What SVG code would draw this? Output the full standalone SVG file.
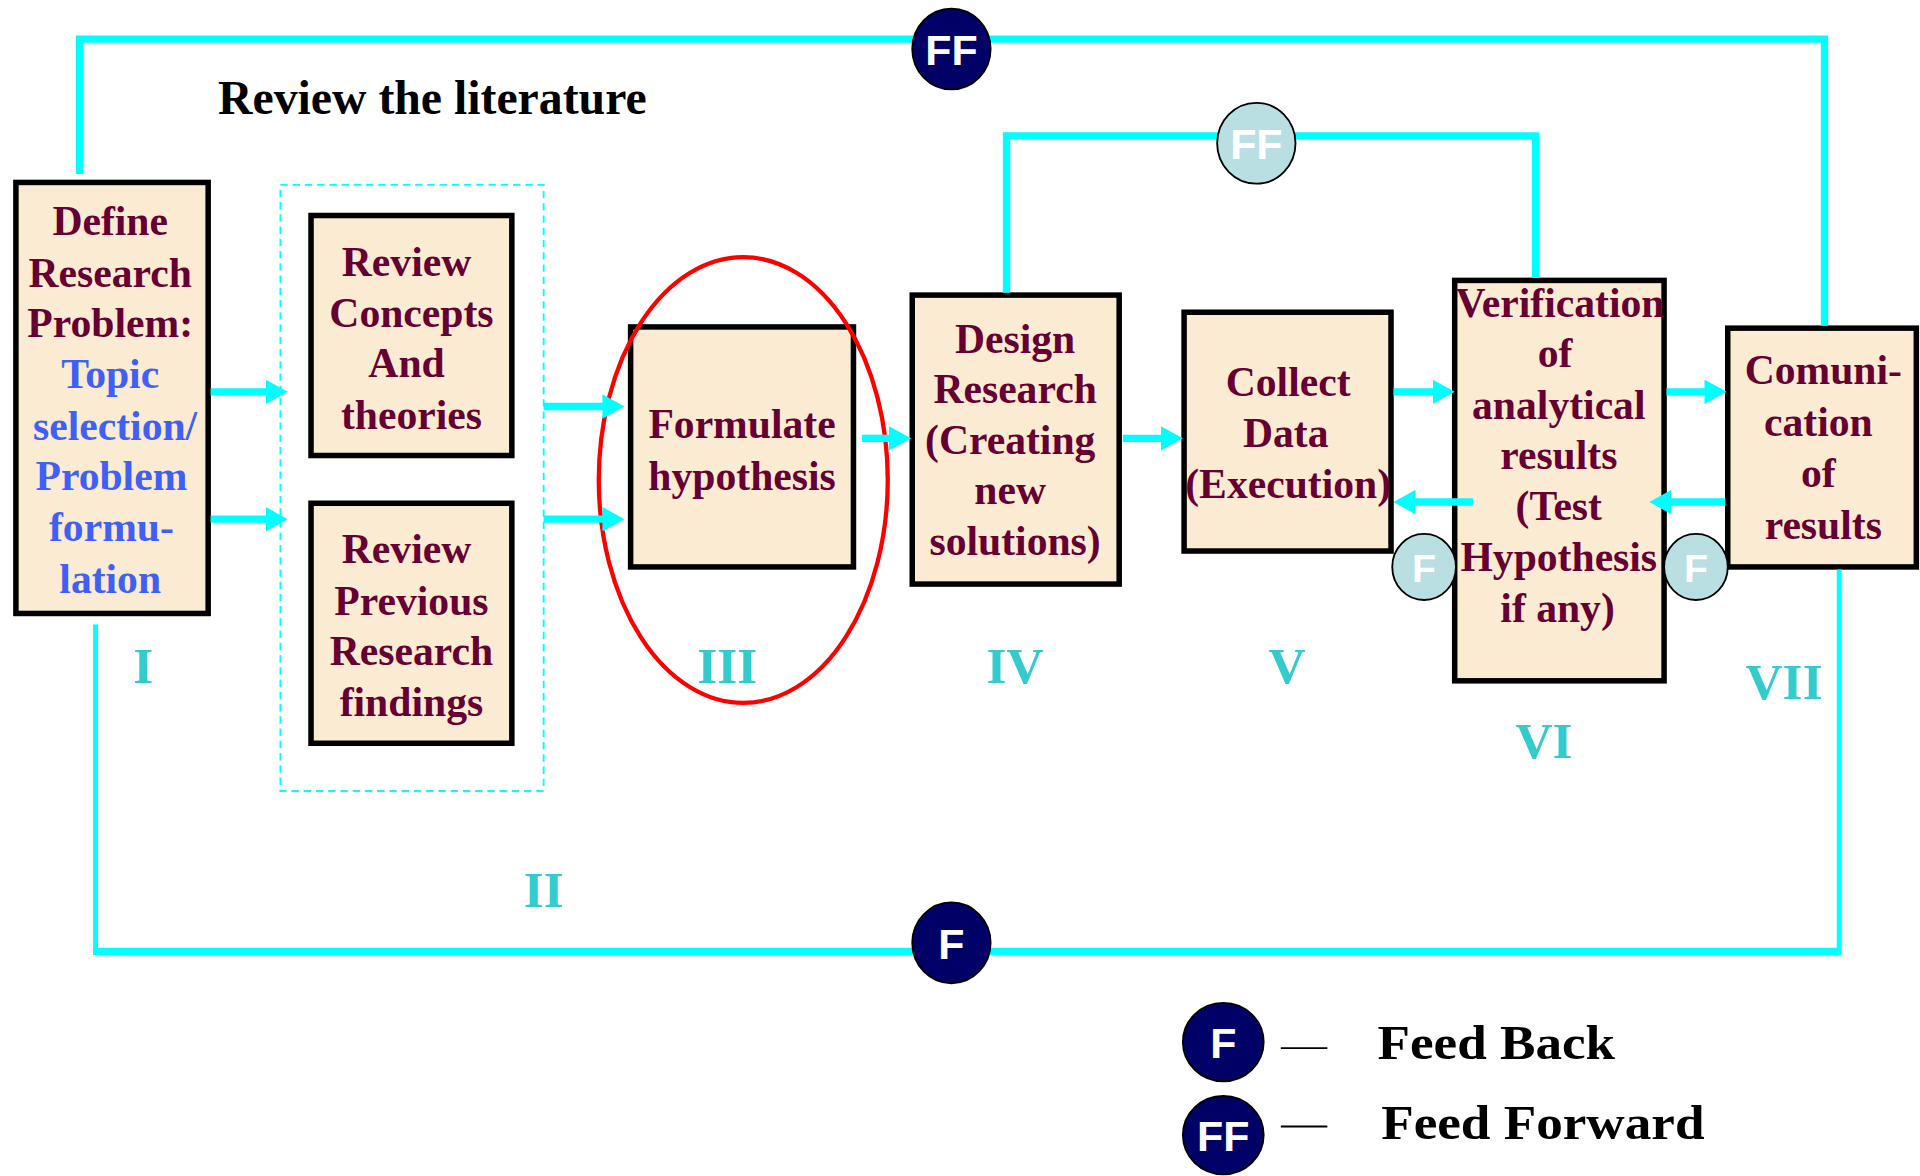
<svg xmlns="http://www.w3.org/2000/svg" width="1920" height="1176" viewBox="0 0 1920 1176">
<defs>
<style>
.box{fill:#FAEBD2;stroke:#000;stroke-width:4.5}
.t{font-family:"Liberation Serif","Times New Roman",serif;font-weight:bold;font-size:34px;fill:#660033;text-anchor:middle}
.blue{fill:#3F5FF5}
.num{font-family:"Liberation Serif","Times New Roman",serif;font-weight:bold;font-size:42px;fill:#33CCCC;text-anchor:middle}
.conn{fill:none;stroke:#00FFFF;stroke-width:6}
.thin{fill:none;stroke:#00FFFF;stroke-width:4}
.arr{fill:none;stroke:#00FFFF;stroke-width:6;marker-end:url(#ah)}
.dk{fill:#000066;stroke:#000;stroke-width:1.5}
.lt{fill:#B9DFE2;stroke:#000;stroke-width:1.5}
.ct{font-family:"Liberation Sans",Arial,sans-serif;font-weight:bold;fill:#fff;text-anchor:middle}
.lg{font-family:"Liberation Serif","Times New Roman",serif;font-weight:bold;font-size:40px;fill:#000}
</style>
<marker id="ah" markerUnits="userSpaceOnUse" markerWidth="18" markerHeight="20" refX="2" refY="10" orient="auto"><path d="M0,0 L18,10 L0,20 z" fill="#00FFFF"/></marker>
</defs>
<rect width="1920" height="1176" fill="#fff"/>
<g transform="scale(1.22449)">
<text x="178" y="93" style="font-family:'Liberation Serif','Times New Roman',serif;font-weight:bold;font-size:39px;fill:#000">Review the literature</text>
<rect id="group-II" x="229" y="151" width="215" height="495" fill="none" stroke="#00FFFF" stroke-width="1.5" stroke-dasharray="6,4"/>
<g id="node-I">
<rect class="box" x="13" y="149" width="157" height="352"/>
<text class="t" x="90" y="192">Define</text>
<text class="t" x="90" y="234">Research</text>
<text class="t" x="90" y="275">Problem:</text>
<text class="t blue" x="90" y="317">Topic</text>
<text class="t blue" x="94" y="359">selection/</text>
<text class="t blue" x="91" y="400">Problem</text>
<text class="t blue" x="91" y="442">formu-</text>
<text class="t blue" x="90" y="484">lation</text>
</g>
<g id="node-IIa">
<rect class="box" x="254" y="176" width="164" height="196"/>
<text class="t" x="332" y="225">Review</text>
<text class="t" x="336" y="267">Concepts</text>
<text class="t" x="332" y="308">And</text>
<text class="t" x="336" y="350">theories</text>
</g>
<g id="node-IIb">
<rect class="box" x="254" y="411" width="164" height="196"/>
<text class="t" x="332" y="460">Review</text>
<text class="t" x="336" y="502">Previous</text>
<text class="t" x="336" y="543">Research</text>
<text class="t" x="336" y="585">findings</text>
</g>
<g id="node-III">
<rect class="box" x="515" y="267" width="182" height="196"/>
<text class="t" x="606" y="358">Formulate</text>
<text class="t" x="606" y="400">hypothesis</text>
<ellipse cx="607" cy="392" rx="118" ry="182" fill="none" stroke="#FF0000" stroke-width="3.5"/>
</g>
<g id="node-IV">
<rect class="box" x="745" y="241" width="169" height="236"/>
<text class="t" x="829" y="288">Design</text>
<text class="t" x="829" y="329">Research</text>
<text class="t" x="825" y="371">(Creating</text>
<text class="t" x="825" y="412">new</text>
<text class="t" x="829" y="453">solutions)</text>
</g>
<g id="node-V">
<rect class="box" x="967" y="255" width="169" height="195"/>
<text class="t" x="1052" y="323">Collect</text>
<text class="t" x="1050" y="365">Data</text>
<text class="t" x="1052" y="407">(Execution)</text>
</g>
<g id="node-VI">
<rect class="box" x="1188" y="229" width="171" height="327"/>
<text class="t" x="1274" y="259">Verification</text>
<text class="t" x="1270" y="300">of</text>
<text class="t" x="1273" y="342">analytical</text>
<text class="t" x="1273" y="383">results</text>
<text class="t" x="1273" y="425">(Test</text>
<text class="t" x="1273" y="466">Hypothesis</text>
<text class="t" x="1272" y="508">if any)</text>
</g>
<g id="node-VII">
<rect class="box" x="1411" y="268" width="154" height="195"/>
<text class="t" x="1489" y="314">Comuni-</text>
<text class="t" x="1485" y="356">cation</text>
<text class="t" x="1485" y="398">of</text>
<text class="t" x="1489" y="440">results</text>
</g>
<g id="connectors">
<path class="conn" d="M65,142 V32 H1490 V266"/>
<path class="conn" d="M822,239 V111 H1254 V227"/>
<path class="thin" d="M78,510 V777"/>
<path class="thin" d="M1502,465 V777"/>
<path class="conn" d="M76,777 H1504"/>
<path class="arr" d="M172,320 H219"/>
<path class="arr" d="M172,424 H219"/>
<path class="arr" d="M444,332 H494"/>
<path class="arr" d="M444,424 H494"/>
<path class="arr" d="M704,358 H728"/>
<path class="arr" d="M917,358 H950"/>
<path class="arr" d="M1138,320 H1172"/>
<path class="arr" d="M1203,410 H1154"/>
<path class="arr" d="M1361,320 H1394"/>
<path class="arr" d="M1409,410 H1363"/>
</g>
<g id="numerals">
<text class="num" x="117" y="558">I</text>
<text class="num" x="444" y="741">II</text>
<text class="num" x="594" y="558">III</text>
<text class="num" x="829" y="558">IV</text>
<text class="num" x="1051" y="558">V</text>
<text class="num" x="1261" y="619">VI</text>
<text class="num" x="1457" y="571">VII</text>
</g>
<g id="ff-top">
<ellipse class="dk" cx="777" cy="40" rx="32" ry="33"/>
<text class="ct" x="777" y="53" font-size="35">FF</text>
</g>
<g id="ff-inner">
<ellipse class="lt" cx="1026" cy="117" rx="32" ry="33"/>
<text class="ct" x="1026" y="130" font-size="35">FF</text>
</g>
<g id="f-left">
<ellipse class="lt" cx="1163" cy="463" rx="26" ry="27"/>
<text class="ct" x="1163" y="475" font-size="32">F</text>
</g>
<g id="f-right">
<ellipse class="lt" cx="1385" cy="463" rx="26" ry="27"/>
<text class="ct" x="1385" y="475" font-size="32">F</text>
</g>
<g id="f-bottom">
<ellipse class="dk" cx="777" cy="770" rx="32" ry="33"/>
<text class="ct" x="777" y="783" font-size="35">F</text>
</g>
<g id="legend">
<ellipse class="dk" cx="999" cy="851" rx="33" ry="32"/>
<text class="ct" x="999" y="864" font-size="35">F</text>
<line x1="1046" y1="856" x2="1084" y2="856" stroke="#000" stroke-width="1.5"/>
<text class="lg" x="1125" y="865" textLength="194" lengthAdjust="spacingAndGlyphs">Feed Back</text>
<ellipse class="dk" cx="999" cy="927" rx="33" ry="32"/>
<text class="ct" x="999" y="940" font-size="35">FF</text>
<line x1="1046" y1="920" x2="1084" y2="920" stroke="#000" stroke-width="1.5"/>
<text class="lg" x="1128" y="930" textLength="264" lengthAdjust="spacingAndGlyphs">Feed Forward</text>
</g>
</g>
</svg>
